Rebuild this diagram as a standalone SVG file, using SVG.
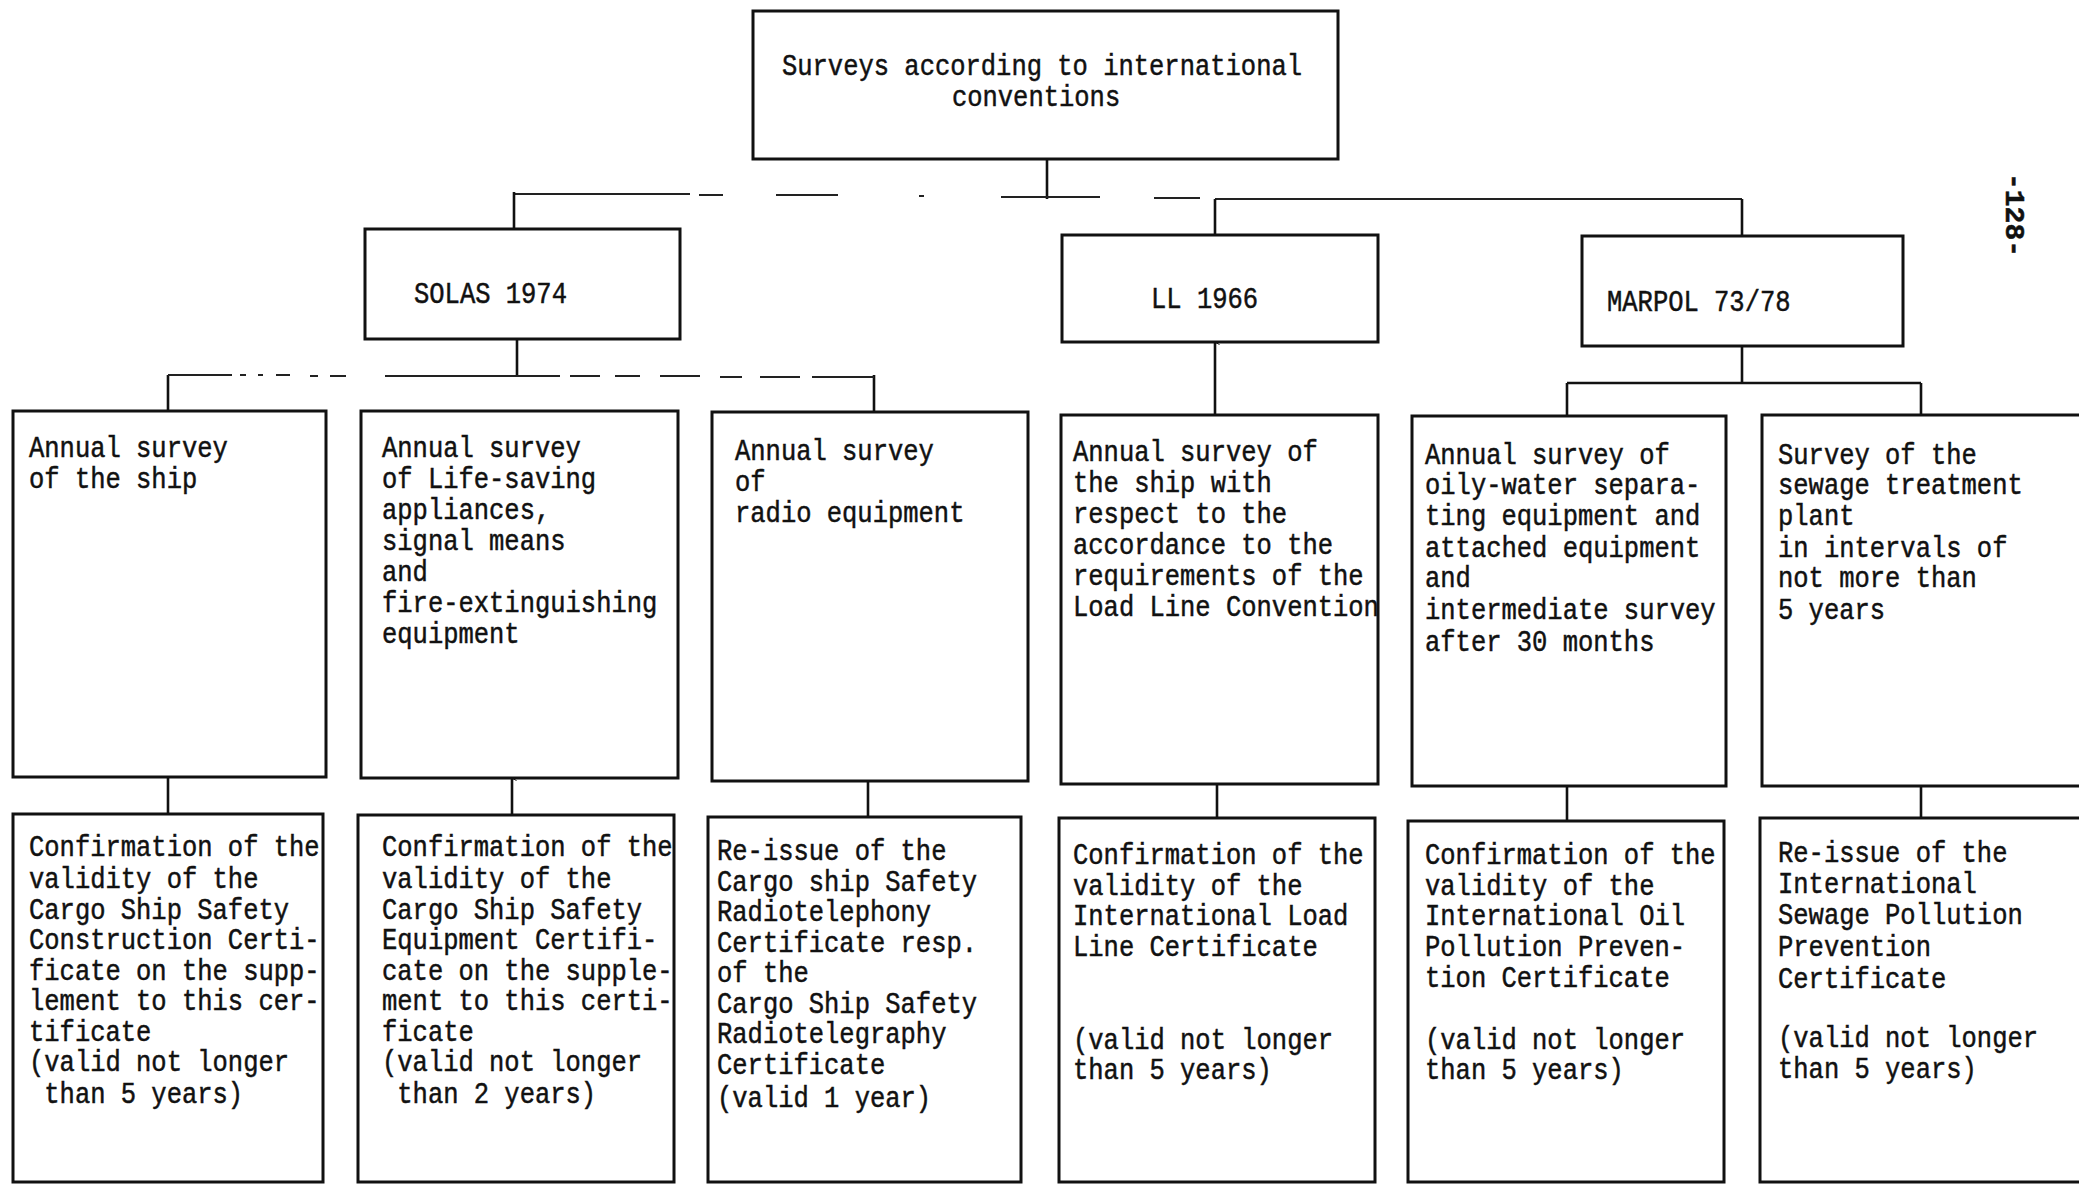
<svg xmlns="http://www.w3.org/2000/svg" width="2079" height="1185" viewBox="0 0 2079 1185">
<style>
.box{fill:#fff;stroke:#111;stroke-width:3}
.ln{fill:none;stroke:#111;stroke-width:2.6}
.br{fill:none;stroke:#222;stroke-width:2}
text{font-family:"Liberation Mono","DejaVu Sans Mono",monospace;font-size:30px;fill:#111;stroke:#111;stroke-width:0.5}
.pg{font-size:28px;font-weight:bold}
</style>
<defs>
<marker id="up" viewBox="0 0 10 10" refX="5" refY="1" markerWidth="5" markerHeight="5" orient="auto-start-reverse" markerUnits="userSpaceOnUse">
<path d="M0,10 L5,0 L10,10" fill="none" stroke="#111" stroke-width="2"/>
</marker>
</defs>
<rect width="2079" height="1185" fill="#fff"/>
<g id="connectors">
<path class="ln" d="M1047,159 V199"/>
<path class="br" d="M514,194 H690 M699,195 H723 M776,195 H838 M919,196 H924 M1001,197 H1100 M1154,198 H1200 M1215,199 H1742"/>
<path class="ln" d="M514,192 V229 M1215,199 V235 M1742,199 V236"/>
<path class="ln" d="M517,339 V375 M168,375 V411 M874,375 V412"/>
<path class="br" d="M168,375 H232 M240,375 H246 M258,375 H263 M276,375 H290 M310,376 H318 M330,376 H346 M385,376 H560 M570,376 H600 M615,376 H640 M660,376 H700 M720,377 H742 M760,377 H800 M812,377 H874"/>
<path class="ln" d="M1215,415 V342" marker-end="url(#up)"/>
<path class="ln" d="M1742,346 V383 M1567,383 H1921 M1567,383 V418 M1921,383 V415"/>
<path class="ln" d="M168,777 V814"/>
<path class="ln" d="M512,815 V778" marker-end="url(#up)"/>
<path class="ln" d="M868,781 V817 M1217,784 V818 M1567,786 V821 M1921,786 V818"/>
</g>
<g id="root">
<rect class="box" x="753" y="11" width="585" height="148"/>
<g transform="translate(1042 0) scale(0.85 1)">
<text x="0" y="75" text-anchor="middle">Surveys according to international</text>
<text x="-7" y="106" text-anchor="middle">conventions</text>
</g>
</g>
<g id="solas">
<rect class="box" x="365" y="229" width="315" height="110"/>
<text transform="translate(414 0) scale(0.85 1)" x="0" y="303">SOLAS 1974</text>
</g>
<g id="ll">
<rect class="box" x="1062" y="235" width="316" height="107"/>
<text transform="translate(1151 0) scale(0.85 1)" x="0" y="308">LL 1966</text>
</g>
<g id="marpol">
<rect class="box" x="1582" y="236" width="321" height="110"/>
<text transform="translate(1607 0) scale(0.85 1)" x="0" y="311">MARPOL 73/78</text>
</g>
<g id="page-number">
<text class="pg" x="2006" y="215" text-anchor="middle" transform="rotate(90 2006 215)">-128-</text>
</g>
<g id="survey-ship">
<rect class="box" x="13" y="411" width="313" height="366"/>
<g transform="translate(29 0) scale(0.85 1)">
<text x="0" y="457">Annual survey</text>
<text x="0" y="488">of the ship</text>
</g>
</g>
<g id="survey-lifesaving">
<rect class="box" x="361" y="411" width="317" height="367"/>
<g transform="translate(382 0) scale(0.85 1)">
<text x="0" y="457">Annual survey</text>
<text x="0" y="488">of Life-saving</text>
<text x="0" y="519">appliances,</text>
<text x="0" y="550">signal means</text>
<text x="0" y="581">and</text>
<text x="0" y="612">fire-extinguishing</text>
<text x="0" y="643">equipment</text>
</g>
</g>
<g id="survey-radio">
<rect class="box" x="712" y="412" width="316" height="369"/>
<g transform="translate(735 0) scale(0.85 1)">
<text x="0" y="460">Annual survey</text>
<text x="0" y="491">of</text>
<text x="0" y="522">radio equipment</text>
</g>
</g>
<g id="survey-loadline">
<rect class="box" x="1061" y="415" width="317" height="369"/>
<g transform="translate(1073 0) scale(0.85 1)">
<text x="0" y="461">Annual survey of</text>
<text x="0" y="492">the ship with</text>
<text x="0" y="523">respect to the</text>
<text x="0" y="554">accordance to the</text>
<text x="0" y="585">requirements of the</text>
<text x="0" y="616">Load Line Convention</text>
</g>
</g>
<g id="survey-oily-water">
<rect class="box" x="1412" y="416" width="314" height="370"/>
<g transform="translate(1425 0) scale(0.85 1)">
<text x="0" y="464">Annual survey of</text>
<text x="0" y="494">oily-water separa-</text>
<text x="0" y="525">ting equipment and</text>
<text x="0" y="557">attached equipment</text>
<text x="0" y="587">and</text>
<text x="0" y="619">intermediate survey</text>
<text x="0" y="651">after 30 months</text>
</g>
</g>
<g id="survey-sewage">
<rect class="box" x="1762" y="415" width="320" height="371"/>
<g transform="translate(1778 0) scale(0.85 1)">
<text x="0" y="464">Survey of the</text>
<text x="0" y="494">sewage treatment</text>
<text x="0" y="525">plant</text>
<text x="0" y="557">in intervals of</text>
<text x="0" y="587">not more than</text>
<text x="0" y="619">5 years</text>
</g>
</g>
<g id="cert-construction">
<rect class="box" x="13" y="814" width="310" height="368"/>
<g transform="translate(29 0) scale(0.85 1)">
<text x="0" y="856">Confirmation of the</text>
<text x="0" y="888">validity of the</text>
<text x="0" y="919">Cargo Ship Safety</text>
<text x="0" y="949">Construction Certi-</text>
<text x="0" y="980">ficate on the supp-</text>
<text x="0" y="1010">lement to this cer-</text>
<text x="0" y="1041">tificate</text>
<text x="0" y="1071">(valid not longer</text>
<text x="18" y="1103">than 5 years)</text>
</g>
</g>
<g id="cert-equipment">
<rect class="box" x="358" y="815" width="316" height="367"/>
<g transform="translate(382 0) scale(0.85 1)">
<text x="0" y="856">Confirmation of the</text>
<text x="0" y="888">validity of the</text>
<text x="0" y="919">Cargo Ship Safety</text>
<text x="0" y="949">Equipment Certifi-</text>
<text x="0" y="980">cate on the supple-</text>
<text x="0" y="1010">ment to this certi-</text>
<text x="0" y="1041">ficate</text>
<text x="0" y="1071">(valid not longer</text>
<text x="18" y="1103">than 2 years)</text>
</g>
</g>
<g id="cert-radio">
<rect class="box" x="708" y="817" width="313" height="365"/>
<g transform="translate(717 0) scale(0.85 1)">
<text x="0" y="860">Re-issue of the</text>
<text x="0" y="891">Cargo ship Safety</text>
<text x="0" y="921">Radiotelephony</text>
<text x="0" y="952">Certificate resp.</text>
<text x="0" y="982">of the</text>
<text x="0" y="1013">Cargo Ship Safety</text>
<text x="0" y="1043">Radiotelegraphy</text>
<text x="0" y="1074">Certificate</text>
<text x="0" y="1107">(valid 1 year)</text>
</g>
</g>
<g id="cert-loadline">
<rect class="box" x="1059" y="818" width="316" height="364"/>
<g transform="translate(1073 0) scale(0.85 1)">
<text x="0" y="864">Confirmation of the</text>
<text x="0" y="895">validity of the</text>
<text x="0" y="925">International Load</text>
<text x="0" y="956">Line Certificate</text>
<text x="0" y="1049">(valid not longer</text>
<text x="0" y="1079">than 5 years)</text>
</g>
</g>
<g id="cert-oil">
<rect class="box" x="1408" y="821" width="316" height="361"/>
<g transform="translate(1425 0) scale(0.85 1)">
<text x="0" y="864">Confirmation of the</text>
<text x="0" y="895">validity of the</text>
<text x="0" y="925">International Oil</text>
<text x="0" y="956">Pollution Preven-</text>
<text x="0" y="987">tion Certificate</text>
<text x="0" y="1049">(valid not longer</text>
<text x="0" y="1079">than 5 years)</text>
</g>
</g>
<g id="cert-sewage">
<rect class="box" x="1760" y="818" width="322" height="364"/>
<g transform="translate(1778 0) scale(0.85 1)">
<text x="0" y="862">Re-issue of the</text>
<text x="0" y="893">International</text>
<text x="0" y="924">Sewage Pollution</text>
<text x="0" y="956">Prevention</text>
<text x="0" y="988">Certificate</text>
<text x="0" y="1047">(valid not longer</text>
<text x="0" y="1078">than 5 years)</text>
</g>
</g>
</svg>
